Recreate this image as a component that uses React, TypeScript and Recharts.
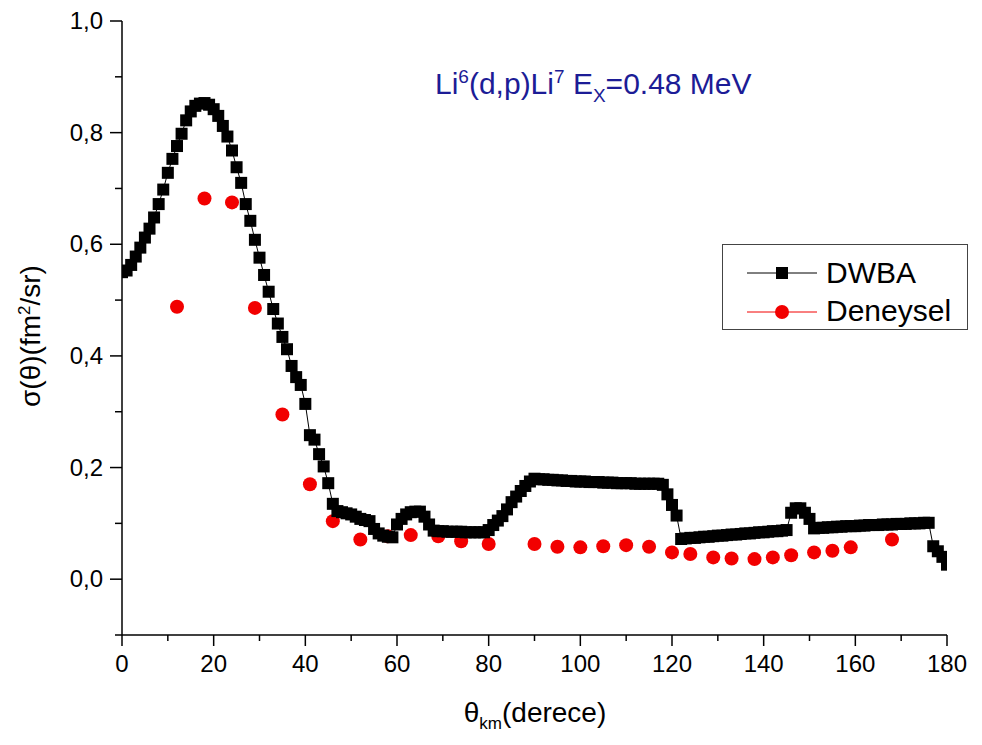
import React from "react";
import { ComposedChart, Line, Scatter, XAxis, YAxis, Legend } from "recharts";

// DWBA curve, one point per degree
const dwbaAngles = [
  0, 1, 2, 3, 4, 5, 6, 7, 8, 9,
  10, 11, 12, 13, 14, 15, 16, 17, 18, 19,
  20, 21, 22, 23, 24, 25, 26, 27, 28, 29,
  30, 31, 32, 33, 34, 35, 36, 37, 38, 39,
  40, 41, 42, 43, 44, 45, 46, 47, 48, 49,
  50, 51, 52, 53, 54, 55, 56, 57, 58, 59,
  60, 61, 62, 63, 64, 65, 66, 67, 68, 69,
  70, 71, 72, 73, 74, 75, 76, 77, 78, 79,
  80, 81, 82, 83, 84, 85, 86, 87, 88, 89,
  90, 91, 92, 93, 94, 95, 96, 97, 98, 99,
  100, 101, 102, 103, 104, 105, 106, 107, 108, 109,
  110, 111, 112, 113, 114, 115, 116, 117, 118, 119,
  120, 121, 122, 123, 124, 125, 126, 127, 128, 129,
  130, 131, 132, 133, 134, 135, 136, 137, 138, 139,
  140, 141, 142, 143, 144, 145, 146, 147, 148, 149,
  150, 151, 152, 153, 154, 155, 156, 157, 158, 159,
  160, 161, 162, 163, 164, 165, 166, 167, 168, 169,
  170, 171, 172, 173, 174, 175, 176, 177, 178, 179,
  180,
];
const dwbaValues = [
  0.55, 0.553, 0.563, 0.578, 0.594, 0.612, 0.628, 0.648, 0.672, 0.698,
  0.728, 0.753, 0.776, 0.798, 0.822, 0.838, 0.848, 0.852, 0.853, 0.85,
  0.842, 0.83, 0.812, 0.793, 0.768, 0.738, 0.71, 0.672, 0.642, 0.608,
  0.576, 0.545, 0.515, 0.484, 0.458, 0.434, 0.412, 0.382, 0.362, 0.348,
  0.314, 0.258, 0.25, 0.224, 0.202, 0.172, 0.135, 0.122, 0.12, 0.118,
  0.116, 0.112, 0.108, 0.106, 0.104, 0.09, 0.082, 0.078, 0.076, 0.075,
  0.098, 0.108, 0.116, 0.12, 0.121, 0.121, 0.112, 0.098, 0.087, 0.086,
  0.086, 0.085, 0.085, 0.085, 0.085, 0.084, 0.084, 0.084, 0.084, 0.084,
  0.088, 0.097, 0.105, 0.113, 0.125, 0.138, 0.148, 0.158, 0.167, 0.175,
  0.18, 0.179, 0.179, 0.178, 0.178, 0.177, 0.177, 0.176, 0.176, 0.175,
  0.175, 0.175, 0.174, 0.174, 0.174, 0.173, 0.173, 0.173, 0.172, 0.172,
  0.172, 0.172, 0.171, 0.171, 0.171, 0.171, 0.171, 0.171, 0.169, 0.152,
  0.133, 0.114, 0.072, 0.073, 0.074, 0.074, 0.075, 0.076, 0.076, 0.077,
  0.078, 0.078, 0.079, 0.08, 0.08, 0.081, 0.082, 0.082, 0.083, 0.084,
  0.084, 0.085, 0.086, 0.086, 0.087, 0.088, 0.119, 0.127, 0.127, 0.119,
  0.108, 0.091, 0.092, 0.092, 0.093, 0.093, 0.094, 0.094, 0.095, 0.095,
  0.095, 0.096, 0.096, 0.097, 0.097, 0.097, 0.098, 0.098, 0.098, 0.099,
  0.099, 0.099, 0.1, 0.1, 0.1, 0.101, 0.101, 0.059, 0.05, 0.04,
  0.026,
];

// experimental points
const expAngles = [
  12, 18, 24, 29, 35, 41, 46, 52, 58, 63, 69, 74, 80, 90, 95,
  100, 105, 110, 115, 120, 124, 129, 133, 138, 142, 146, 151, 155, 159, 168,
];
const expValues = [
  0.488, 0.682, 0.675, 0.486, 0.295, 0.17, 0.104, 0.071, 0.077, 0.079, 0.077, 0.068, 0.063, 0.063, 0.058,
  0.057, 0.059, 0.061, 0.058, 0.048, 0.045, 0.039, 0.037, 0.036, 0.039, 0.043, 0.048, 0.051, 0.057, 0.071,
];

const xTicks = [0, 10, 20, 30, 40, 50, 60, 70, 80, 90, 100, 110, 120, 130, 140, 150, 160, 170, 180];
const yTicks = [-0.1, 0, 0.1, 0.2, 0.3, 0.4, 0.5, 0.6, 0.7, 0.8, 0.9, 1.0];

const FONT = "Arial, 'Liberation Sans', sans-serif";

const dwbaData = dwbaAngles.map((x, i) => ({ x, y: dwbaValues[i] }));
const expData = expAngles.map((x, i) => ({ x, y: expValues[i] }));

const XTick = (props: any) => {
  const { x, y, payload } = props;
  const v = payload.value;
  const major = v % 20 === 0;
  return (
    <g>
      <line x1={x} y1={y} x2={x} y2={y + (major ? 11 : 6)} stroke="#000" strokeWidth={1.5} />
      {major && (
        <text x={x} y={y + 37} textAnchor="middle" fontSize={24} fontFamily={FONT} fill="#000">
          {v}
        </text>
      )}
    </g>
  );
};

const YTick = (props: any) => {
  const { x, y, payload } = props;
  const tenths = Math.round(payload.value * 10);
  const major = tenths >= 0 && tenths % 2 === 0;
  return (
    <g>
      <line x1={x - (major ? 12 : 7)} y1={y} x2={x} y2={y} stroke="#000" strokeWidth={1.5} />
      {major && (
        <text x={x - 19} y={y + 8} textAnchor="end" fontSize={24} fontFamily={FONT} fill="#000">
          {(tenths / 10).toFixed(1).replace(".", ",")}
        </text>
      )}
    </g>
  );
};

const SquareDot = (props: any) => {
  const { cx, cy, index } = props;
  if (cx == null || cy == null) return null;
  return <rect key={`sq-${index}`} x={cx - 6} y={cy - 6} width={12} height={12} fill="#000" />;
};

const RedDot = (props: any) => {
  const { cx, cy } = props;
  return <circle cx={cx} cy={cy} r={7} fill="#f20000" />;
};

const LegendBox = () => (
  <svg width={248} height={88} style={{ display: "block" }}>
    <rect x={0.5} y={0.5} width={245} height={85} fill="#fff" stroke="#444" strokeWidth={1} />
    <line x1={25} y1={29} x2={95} y2={29} stroke="#000" strokeWidth={1} />
    <rect x={54} y={23} width={12} height={12} fill="#000" />
    <text x={104} y={39} fontSize={30} fontFamily={FONT} fill="#000">DWBA</text>
    <line x1={25} y1={68} x2={95} y2={68} stroke="#f20000" strokeWidth={1} />
    <circle cx={60} cy={68} r={7} fill="#f20000" />
    <text x={104} y={77} fontSize={30} fontFamily={FONT} fill="#000">Deneysel</text>
  </svg>
);

export default function App() {
  return (
    <ComposedChart width={966} height={729} margin={{ top: 13, right: 27, left: 0, bottom: 0 }}>
      <XAxis
        type="number"
        dataKey="x"
        domain={[0, 180]}
        ticks={xTicks}
        interval={0}
        tickSize={0}
        tickMargin={0}
        tick={<XTick />}
        axisLine={{ stroke: "#000", strokeWidth: 1.5 }}
        height={102}
        allowDataOverflow
      />
      <YAxis
        type="number"
        dataKey="y"
        domain={[-0.1, 1.0]}
        ticks={yTicks}
        interval={0}
        tickSize={0}
        tickMargin={0}
        tick={<YTick />}
        axisLine={{ stroke: "#000", strokeWidth: 1.5 }}
        width={114}
        allowDataOverflow
      />
      <Line
        data={dwbaData}
        dataKey="y"
        name="DWBA"
        type="linear"
        stroke="#000"
        strokeWidth={1}
        dot={<SquareDot />}
        activeDot={false}
        isAnimationActive={false}
      />
      <Scatter
        data={expData}
        dataKey="y"
        name="Deneysel"
        fill="#f20000"
        shape={<RedDot />}
        isAnimationActive={false}
      />
      <Legend
        layout="vertical"
        align="center"
        verticalAlign="middle"
        content={<LegendBox />}
        wrapperStyle={{ left: 714, top: 236, width: 248, height: 88 }}
      />
      <text x={427} y={86} fontSize={30} fontFamily={FONT} fill="#1c1c96">
        Li<tspan dy={-11} fontSize={19}>6</tspan>
        <tspan dy={11}>(d,p)Li</tspan>
        <tspan dy={-11} fontSize={19}>7</tspan>
        <tspan dy={11}> E</tspan>
        <tspan dy={8} fontSize={19}>X</tspan>
        <tspan dy={-8}>=0.48 MeV</tspan>
      </text>
      <text
        x={32}
        y={328}
        transform="rotate(-90 32 328)"
        textAnchor="middle"
        fontSize={28}
        fontFamily={FONT}
        fill="#000"
      >
        σ(θ)(fm<tspan dy={-10} fontSize={17}>2</tspan>
        <tspan dy={10}>/sr)</tspan>
      </text>
      <text x={527} y={714} textAnchor="middle" fontSize={28} fontFamily={FONT} fill="#000">
        θ<tspan dy={7} fontSize={17}>km</tspan>
        <tspan dy={-7}>(derece)</tspan>
      </text>
    </ComposedChart>
  );
}
